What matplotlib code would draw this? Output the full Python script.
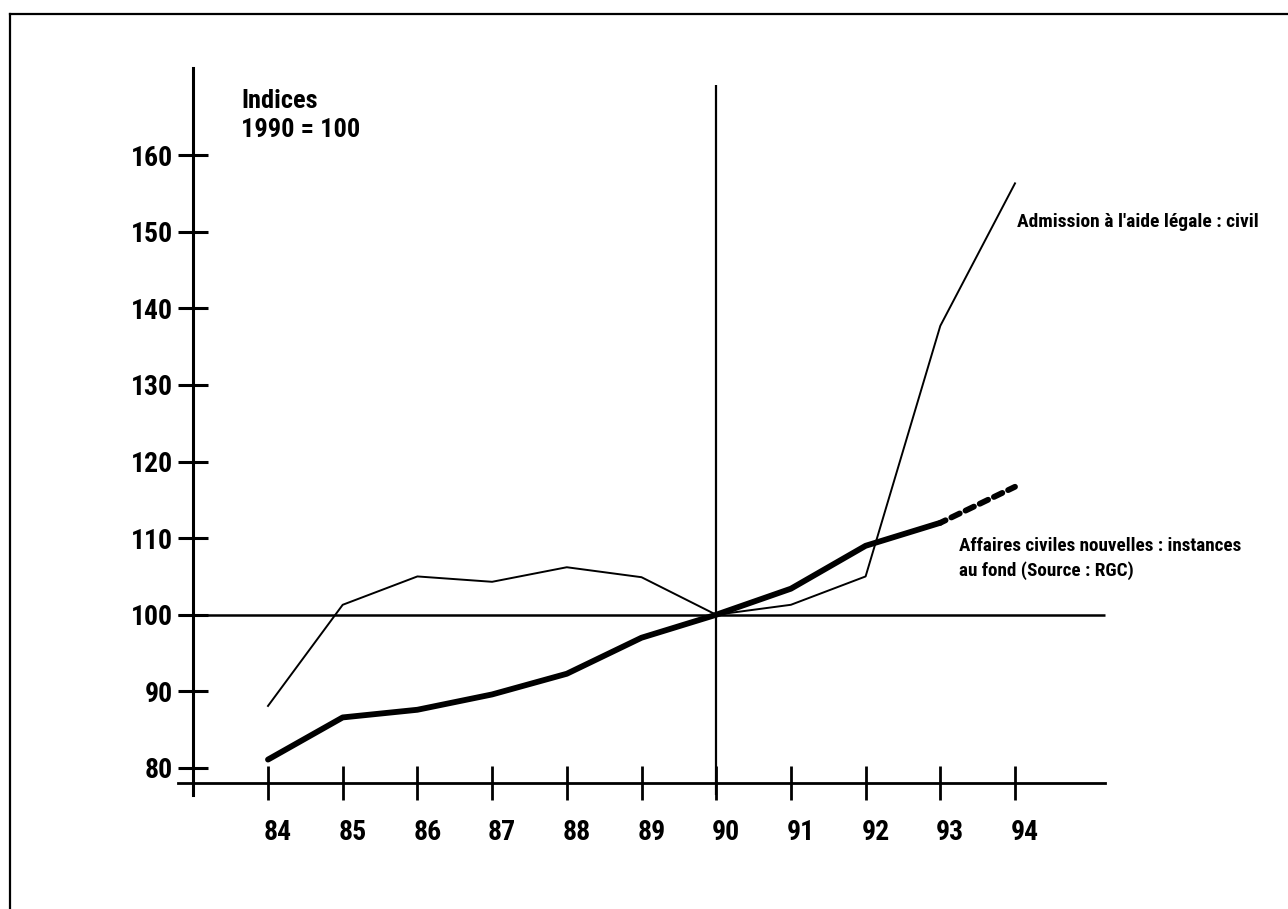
import matplotlib
matplotlib.use("Agg")
import matplotlib.pyplot as plt
from matplotlib.lines import Line2D
import matplotlib.transforms as mtransforms

# ---- data ----
years = [84, 85, 86, 87, 88, 89, 90, 91, 92, 93, 94]
year_labels = ["84", "85", "86", "87", "88", "89", "90", "91", "92", "93", "94"]
y_ticks = [80, 90, 100, 110, 120, 130, 140, 150, 160]
y_tick_labels = ["80", "90", "100", "110", "120", "130", "140", "150", "160"]

aide_legale_civil = [88.1, 101.3, 105.0, 104.3, 106.2, 104.9, 100.0, 101.3, 105.0, 137.7, 156.3]
affaires_years = [84, 85, 86, 87, 88, 89, 90, 91, 92, 93]
affaires_civiles = [81.1, 86.6, 87.6, 89.6, 92.3, 97.0, 100.0, 103.4, 109.0, 112.0]
affaires_proj_years = [93, 94]
affaires_proj = [112.0, 116.7]

label_aide = "Admission à l'aide légale : civil"
label_affaires = "Affaires civiles nouvelles : instances\nau fond (Source : RGC)"
axis_title = "Indices\n1990 = 100"

FONT = ['Liberation Sans Narrow', 'Roboto Condensed', 'DejaVu Sans']

fig = plt.figure(figsize=(12.88, 9.09), dpi=100)
ax = fig.add_axes([0, 0, 1, 1])
# pixel-to-data mapping: 84 -> 268px, 94 -> 1015px ; 80 -> 768px, 160 -> 155px (from top)
px_per_year = (1015 - 268) / 10.0
px_per_unit = (768 - 155) / 80.0
ax.set_xlim(84 - 268 / px_per_year, 84 + (1288 - 268) / px_per_year)
ax.set_ylim(80 - (909 - 768) / px_per_unit, 160 + 155 / px_per_unit)

for s in ['top', 'right']:
    ax.spines[s].set_visible(False)
ax.spines['left'].set_position(('data', 83.0))
ax.spines['bottom'].set_position(('data', 78.0))
ax.spines['left'].set_bounds(76.5, 171.4)
ax.spines['bottom'].set_bounds(82.8, 95.2)
ax.spines['left'].set_linewidth(2.2)
ax.spines['bottom'].set_linewidth(2.0)

ax.set_xticks(years)
ax.set_xticklabels(year_labels)
ax.set_yticks(y_ticks)
ax.set_yticklabels(y_tick_labels)
ax.tick_params(axis='x', direction='inout', length=24, width=2.0, pad=14)
ax.tick_params(axis='y', direction='inout', length=21, width=2.2, pad=4)
for lab in ax.get_xticklabels():
    lab.set_fontfamily(FONT)
    lab.set_fontweight('bold')
    lab.set_fontsize(20)
    lab.set_transform(lab.get_transform() + mtransforms.ScaledTranslation(10 / 100, 0, fig.dpi_scale_trans))
for lab in ax.get_yticklabels():
    lab.set_fontfamily(FONT)
    lab.set_fontweight('bold')
    lab.set_fontsize(20)

# reference lines
ax.plot([82.8, 95.2], [100, 100], color='black', lw=1.8, solid_capstyle='butt')
ax.plot([90, 90], [76.5, 169.2], color='black', lw=1.6, solid_capstyle='butt')

# series
ax.plot(years, aide_legale_civil, color='black', lw=1.4)
ax.plot(affaires_years, affaires_civiles, color='black', lw=4.2, solid_capstyle='round', solid_joinstyle='round')
ax.plot(affaires_proj_years, affaires_proj, color='black', lw=4.2, linestyle=(0.6, (1.6, 1.1)), dash_capstyle='round')

# texts
ax.text(83.64, 168.6, axis_title, fontfamily=FONT, fontweight='bold', fontsize=19,
        ha='left', va='top', linespacing=1.27)
ax.text(94.03, 151.3, label_aide, fontfamily=FONT, fontweight='bold', fontsize=14,
        ha='left', va='center')
ax.text(93.25, 107.3, label_affaires, fontfamily=FONT, fontweight='bold', fontsize=13.8,
        ha='left', va='center', linespacing=1.4)

# frame (top and left edges)
fig.add_artist(Line2D([10 / 1288, 1.0], [1 - 14 / 909, 1 - 14 / 909], color='black', lw=1.6, transform=fig.transFigure))
fig.add_artist(Line2D([10 / 1288, 10 / 1288], [0.0, 1 - 14 / 909], color='black', lw=1.6, transform=fig.transFigure))

fig.savefig("out.png", dpi=100)
